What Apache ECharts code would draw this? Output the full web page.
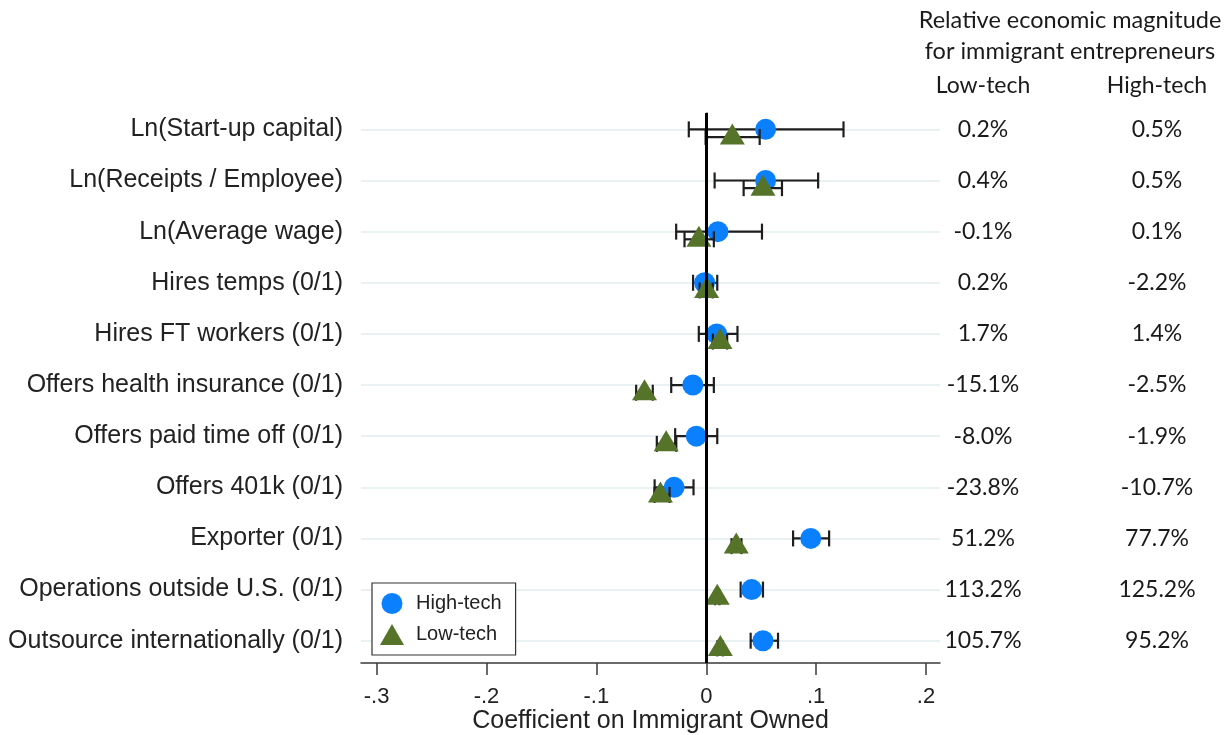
<!DOCTYPE html>
<html>
<head>
<meta charset="utf-8">
<script src="https://cdn.jsdelivr.net/npm/echarts@6/dist/echarts.min.js"></script>
<style>
html,body{margin:0;padding:0;background:#fff;}
#chart{width:1230px;height:735px;}
</style>
</head>
<body>
<div id="chart"></div>
<script>
const categories = [
  'Ln(Start-up capital)',
  'Ln(Receipts / Employee)',
  'Ln(Average wage)',
  'Hires temps (0/1)',
  'Hires FT workers (0/1)',
  'Offers health insurance (0/1)',
  'Offers paid time off (0/1)',
  'Offers 401k (0/1)',
  'Exporter (0/1)',
  'Operations outside U.S. (0/1)',
  'Outsource internationally (0/1)'
];
const highCoef = [0.054, 0.054, 0.0106, -0.0015, 0.0095, -0.0122, -0.0091, -0.0293, 0.0951, 0.0413, 0.0516];
const highLo   = [-0.0159, 0.0076, -0.0274, -0.0120, -0.0068, -0.0319, -0.0283, -0.0470, 0.0790, 0.0313, 0.0404];
const highHi   = [0.1249, 0.1018, 0.0507, 0.0100, 0.0284, 0.0069, 0.0100, -0.0116, 0.1118, 0.0516, 0.0653];
const lowCoef  = [0.0237, 0.0516, -0.0067, 0.0003, 0.0125, -0.0562, -0.0365, -0.0417, 0.0273, 0.0100, 0.0128];
const lowLo    = [-0.0006, 0.0340, -0.0198, -0.0060, 0.0060, -0.0638, -0.0450, -0.0471, 0.0230, 0.0080, 0.0100];
const lowHi    = [0.0486, 0.0689, 0.0069, 0.0058, 0.0190, -0.0487, -0.0273, -0.0334, 0.0320, 0.0120, 0.0150];
const lowTechMag  = ['0.2%', '0.4%', '-0.1%', '0.2%', '1.7%', '-15.1%', '-8.0%', '-23.8%', '51.2%', '113.2%', '105.7%'];
const highTechMag = ['0.5%', '0.5%', '0.1%', '-2.2%', '1.4%', '-2.5%', '-1.9%', '-10.7%', '77.7%', '125.2%', '95.2%'];
const xTicks = [-0.3, -0.2, -0.1, 0, 0.1, 0.2];
const xTickLabels = ['-.3', '-.2', '-.1', '0', '.1', '.2'];
const headerLines = ['Relative economic magnitude', 'for immigrant entrepreneurs'];
const columnHeads = ['Low-tech', 'High-tech'];

const rows = categories.map((c, i) => i + 1);
const LOW_OFF = 0.15;
const BLUE = '#0a80ff';
const GREEN = '#557329';
const ARIAL = '"Liberation Sans", Arial, sans-serif';
const CAL = 'Lato, "Open Sans", sans-serif';
const LOW_X = 983, HIGH_X = 1157;

function ciData(lo, hi, off) {
  return rows.map((r, i) => [lo[i], hi[i], r + off]);
}
function ciRender(params, api) {
  const y = api.value(2);
  const p1 = api.coord([api.value(0), y]);
  const p2 = api.coord([api.value(1), y]);
  const h = 8;
  const st = { stroke: '#1e1e1e', lineWidth: 2.2 };
  return {
    type: 'group',
    children: [
      { type: 'line', shape: { x1: p1[0], y1: p1[1], x2: p2[0], y2: p2[1] }, style: st },
      { type: 'line', shape: { x1: p1[0], y1: p1[1] - h, x2: p1[0], y2: p1[1] + h }, style: st },
      { type: 'line', shape: { x1: p2[0], y1: p2[1] - h, x2: p2[0], y2: p2[1] + h }, style: st }
    ]
  };
}

const chart = echarts.init(document.getElementById('chart'), null, { renderer: 'canvas' });
const txt = (text, x, y, size) => ({
  type: 'text', x: x, y: y, z: 20,
  style: { text: text, fontSize: size, fontFamily: CAL, fill: '#1a1a1a', align: 'center', verticalAlign: 'middle' }
});
const option = {
  backgroundColor: '#ffffff',
  animation: false,
  grid: { left: 361, right: 290, top: 113, bottom: 72, containLabel: false, outerBoundsMode: 'none' },
  xAxis: {
    type: 'value',
    min: -0.3142,
    max: 0.2127,
    axisLine: { show: true, lineStyle: { color: '#3a3a3a', width: 1.5 } },
    axisTick: { show: true, customValues: xTicks, length: 12, lineStyle: { color: '#3a3a3a', width: 1.5 } },
    axisLabel: {
      customValues: xTicks,
      margin: 23,
      fontSize: 22,
      fontFamily: ARIAL,
      color: '#222',
      formatter: function (v) {
        const i = xTicks.findIndex(t => Math.abs(t - v) < 1e-6);
        return i >= 0 ? xTickLabels[i] : '';
      }
    },
    splitLine: { show: false },
    name: 'Coefficient on Immigrant Owned',
    nameLocation: 'middle',
    nameGap: 46,
    nameMoveOverlap: false,
    nameTextStyle: { fontSize: 25, fontFamily: ARIAL, color: '#222' }
  },
  yAxis: {
    type: 'value',
    inverse: true,
    min: 0.68,
    max: 11.436,
    axisLine: { show: true, lineStyle: { color: '#3a3a3a', width: 1.5 } },
    axisTick: { show: true, customValues: rows, length: 12, lineStyle: { color: '#3a3a3a', width: 1.5 } },
    axisLabel: {
      customValues: rows,
      margin: 18,
      fontSize: 25,
      fontFamily: ARIAL,
      color: '#222',
      formatter: function (v) { return categories[Math.round(v) - 1] || ''; }
    },
    splitLine: { show: false }
  },
  legend: {
    left: 372,
    top: 583,
    z: 30,
    orient: 'vertical',
    data: ['High-tech', 'Low-tech'],
    backgroundColor: '#ffffff',
    borderColor: '#333',
    borderWidth: 1.2,
    borderRadius: 0,
    padding: [10, 14, 10, 8],
    itemWidth: 24,
    itemHeight: 21,
    itemGap: 10,
    textStyle: { fontSize: 20, fontFamily: ARIAL, color: '#222', padding: [0, 0, 0, 7] }
  },
  series: [
    {
      type: 'scatter',
      name: 'grid',
      data: [],
      silent: true,
      z: 1,
      markLine: {
        z: 1,
        silent: true,
        symbol: 'none',
        label: { show: false },
        lineStyle: { color: '#e9f1f3', width: 2, type: 'solid' },
        data: rows.map(r => ({ yAxis: r }))
      }
    },
    {
      type: 'custom',
      name: 'High-tech CI',
      renderItem: ciRender,
      data: ciData(highLo, highHi, 0),
      encode: { x: [0, 1], y: 2 },
      z: 2,
      silent: true
    },
    {
      type: 'scatter',
      name: 'High-tech',
      symbol: 'circle',
      symbolSize: 21,
      itemStyle: { color: BLUE, opacity: 1 },
      data: rows.map((r, i) => [highCoef[i], r]),
      z: 3
    },
    {
      type: 'custom',
      name: 'Low-tech CI',
      renderItem: ciRender,
      data: ciData(lowLo, lowHi, LOW_OFF),
      encode: { x: [0, 1], y: 2 },
      z: 4,
      silent: true
    },
    {
      type: 'scatter',
      name: 'Low-tech',
      symbol: 'triangle',
      symbolSize: [25, 21],
      symbolOffset: [0, -3],
      itemStyle: { color: GREEN, opacity: 1 },
      data: rows.map((r, i) => [lowCoef[i], r + LOW_OFF]),
      z: 5
    },
    {
      type: 'scatter',
      name: 'zero',
      data: [],
      silent: true,
      z: 6,
      markLine: {
        z: 6,
        silent: true,
        symbol: 'none',
        label: { show: false },
        lineStyle: { color: '#000', width: 3, type: 'solid' },
        data: [{ xAxis: 0 }]
      }
    },
    {
      type: 'custom',
      name: 'magnitudes',
      silent: true,
      clip: false,
      data: rows.map(r => [0, r]),
      encode: { x: 0, y: 1 },
      renderItem: function (params, api) {
        const i = params.dataIndex;
        const y = api.coord([0, api.value(1)])[1];
        const st = { fontSize: 23, fontFamily: CAL, fill: '#1a1a1a', align: 'center', verticalAlign: 'middle' };
        return {
          type: 'group',
          children: [
            { type: 'text', x: LOW_X, y: y, style: Object.assign({ text: lowTechMag[i] }, st) },
            { type: 'text', x: HIGH_X, y: y, style: Object.assign({ text: highTechMag[i] }, st) }
          ]
        };
      }
    }
  ],
  graphic: [
    txt(headerLines[0], 1070, 20, 23.5),
    txt(headerLines[1], 1070, 51, 23.5),
    txt(columnHeads[0], LOW_X, 86, 23),
    txt(columnHeads[1], HIGH_X, 86, 23)
  ]
};
chart.setOption(option);
</script>
</body>
</html>
